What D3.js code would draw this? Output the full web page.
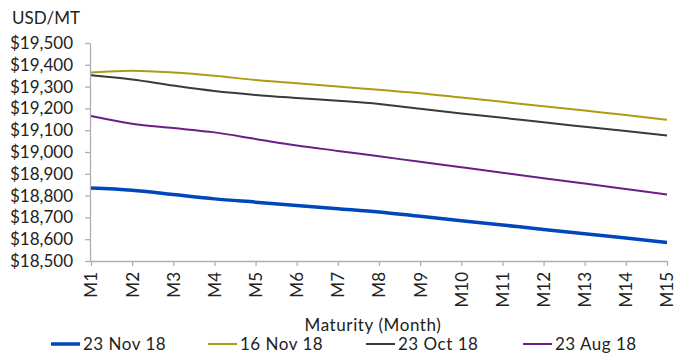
<!DOCTYPE html>
<html>
<head>
<meta charset="utf-8">
<script src="https://cdn.jsdelivr.net/npm/d3@7"></script>
<style>
  body { margin: 0; background: #fff; }
  svg text { font-family: Lato, "Liberation Sans", sans-serif; fill: #222; }
</style>
</head>
<body>
<div id="chart"></div>
<script>
const months = ['M1', 'M2', 'M3', 'M4', 'M5', 'M6', 'M7', 'M8', 'M9', 'M10', 'M11', 'M12', 'M13', 'M14', 'M15'];
const yTicks = [18500, 18600, 18700, 18800, 18900, 19000, 19100, 19200, 19300, 19400, 19500];

const nov23 = [18835, 18825, 18805, 18785, 18770, 18755, 18740, 18725, 18705, 18685, 18665, 18645, 18625, 18605, 18585];
const nov16 = [19365, 19373, 19365, 19350, 19330, 19315, 19300, 19285, 19270, 19250, 19230, 19210, 19190, 19170, 19148];
const oct23 = [19352, 19333, 19305, 19280, 19262, 19248, 19235, 19220, 19198, 19177, 19157, 19136, 19116, 19096, 19076];
const aug23 = [19165, 19130, 19110, 19090, 19060, 19030, 19005, 18980, 18955, 18930, 18905, 18880, 18855, 18830, 18805];

const series = [
  { name: '23 Nov 18', values: nov23, color: '#0047bb', width: 3.5 },
  { name: '16 Nov 18', values: nov16, color: '#b09a14', width: 2 },
  { name: '23 Oct 18', values: oct23, color: '#3a3a3a', width: 2 },
  { name: '23 Aug 18', values: aug23, color: '#6b1f85', width: 2 },
];

const width = 676;
const height = 354;
const margin = { top: 43, right: 9, bottom: 93, left: 91 };

const svg = d3.select('#chart').append('svg')
  .attr('width', width)
  .attr('height', height);

const x = d3.scalePoint()
  .domain(months)
  .range([margin.left, width - margin.right]);

const y = d3.scaleLinear()
  .domain([18500, 19500])
  .range([height - margin.bottom, margin.top]);

const fmt = (v) => '$' + d3.format(',')(v);

// y axis
const yAxis = svg.append('g')
  .attr('transform', `translate(${margin.left - 1},0)`)
  .call(d3.axisLeft(y).tickValues(yTicks).tickSize(5).tickSizeOuter(0).tickPadding(12).tickFormat(fmt));
yAxis.selectAll('line, path').attr('stroke', '#b0b0b0').attr('stroke-width', 1.3);
yAxis.selectAll('text').style('font-size', '17px').attr('fill', '#222');

// x axis
const xAxis = svg.append('g')
  .attr('transform', `translate(0,${height - margin.bottom})`)
  .call(d3.axisBottom(x).tickSize(5).tickSizeOuter(0));
xAxis.select('path').attr('d', `M${margin.left - 1},0.5H${width - margin.right}`);
xAxis.selectAll('line, path').attr('stroke', '#b0b0b0').attr('stroke-width', 1.3);
xAxis.selectAll('text')
  .style('font-size', '17px')
  .attr('fill', '#222')
  .attr('transform', 'rotate(-90)')
  .attr('text-anchor', 'end')
  .attr('dy', '0.35em')
  .attr('x', -11)
  .attr('y', 0);

// lines
const line = d3.line()
  .x((d, i) => x(months[i]))
  .y((d) => y(d))
  .curve(d3.curveMonotoneX);

// draw blue last so it sits on top like the original
[series[1], series[2], series[3], series[0]].forEach((s) => {
  svg.append('path')
    .datum(s.values)
    .attr('fill', 'none')
    .attr('stroke', s.color)
    .attr('stroke-width', s.width)
    .attr('d', line);
});

// titles
svg.append('text')
  .attr('x', 12)
  .attr('y', 24)
  .style('font-size', '17px')
  .text('USD/MT');

svg.append('text')
  .attr('x', 373)
  .attr('y', 331)
  .attr('text-anchor', 'middle')
  .style('font-size', '17px')
  .style('letter-spacing', '0.6px')
  .text('Maturity (Month)');

// legend
const legendX = [51, 208, 366, 523];
const legend = svg.selectAll('.legend')
  .data(series)
  .enter()
  .append('g')
  .attr('transform', (d, i) => `translate(${legendX[i]},344)`);

legend.append('line')
  .attr('x1', 0)
  .attr('x2', 29)
  .attr('stroke', (d) => d.color)
  .attr('stroke-width', (d) => d.width);

legend.append('text')
  .attr('x', 32)
  .attr('y', 6)
  .style('font-size', '17px')
  .style('letter-spacing', '0.5px')
  .text((d) => d.name);
</script>
</body>
</html>
